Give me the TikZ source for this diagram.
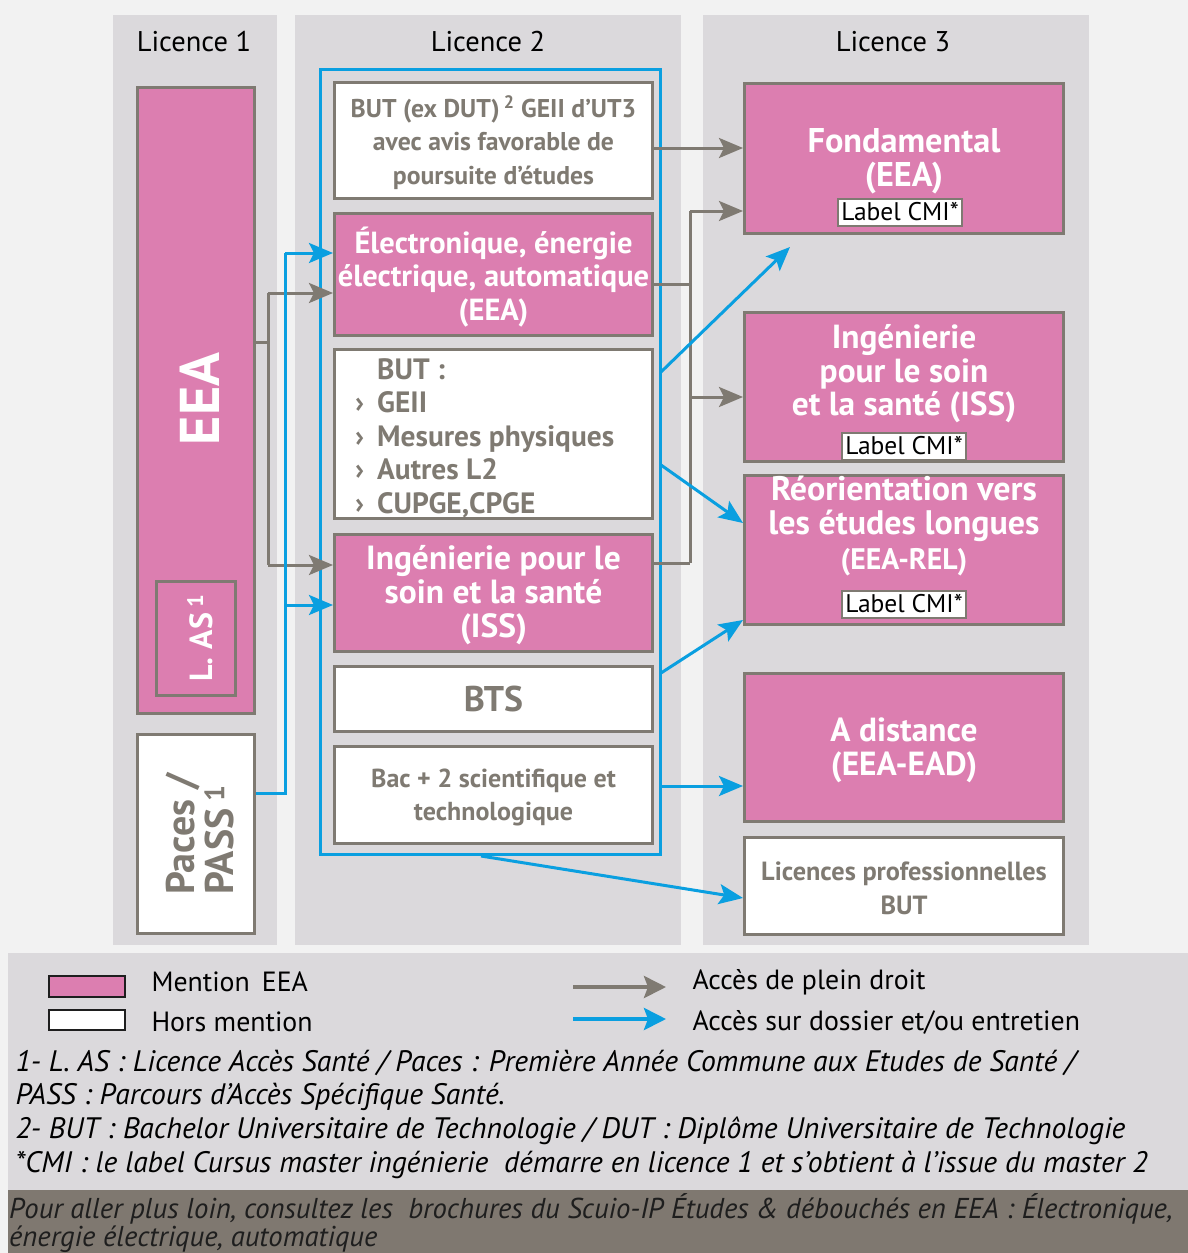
\documentclass[tikz,border=0pt]{standalone}
\usepackage{fontspec}
\setmainfont{PT Sans}
\usetikzlibrary{arrows.meta}
\definecolor{pinkc}{HTML}{DC7EB0}
\definecolor{grayc}{HTML}{7F7A72}
\definecolor{colbg}{HTML}{DBD9DC}
\definecolor{outerbg}{HTML}{F2F2F2}
\definecolor{bluec}{HTML}{0A9FE0}
\definecolor{barc}{HTML}{7F7870}
\definecolor{darktxt}{HTML}{1E1E1E}
\begin{document}
\begin{tikzpicture}[x=1pt,y=-1pt,
  box/.style={draw=grayc, line width=3pt, inner sep=0pt, align=center},
  pinkbox/.style={box, fill=pinkc, text=white},
  whitebox/.style={box, fill=white, text=grayc},
  wl2/.style={minimum width=318pt},
  wl3/.style={minimum width=319pt},
  gline/.style={draw=grayc, line width=3pt},
  garrow/.style={gline, -{Stealth[length=24pt,width=20pt,inset=5pt]}},
  bline/.style={draw=bluec, line width=3pt, line join=miter},
  barrow/.style={bline, -{Stealth[length=24pt,width=20pt,inset=5pt]}},
  cmi/.style={draw=grayc, line width=2pt, fill=white, text=black, font={\fontsize{25.5}{27}\selectfont}, minimum width=124pt, minimum height=27pt, inner sep=0pt},
  hdr/.style={font={\fontsize{28.5}{30}\selectfont}, text=black},
  legtxt/.style={anchor=west, font={\fontsize{27.8}{30}\selectfont}, text=black},
  foot/.style={anchor=west, font={\fontsize{29.6}{30}\selectfont\itshape}, text=black},
  bartxt/.style={anchor=west, font={\fontsize{28.7}{30}\selectfont\itshape}, text=darktxt},
]
\useasboundingbox (0,0) rectangle (1188,1253);
\fill[outerbg] (0,0) rectangle (1188,1253);
% columns
\fill[colbg] (113,15) rectangle (277,945);
\fill[colbg] (295,15) rectangle (681,945);
\fill[colbg] (703,15) rectangle (1089,945);
\node[hdr] (h1) at (194,42) {Licence 1};
\node[hdr] (h2) at (488,42) {Licence 2};
\node[hdr] (h3) at (893,42) {Licence 3};

% Licence 1
\node[pinkbox, minimum width=117pt, minimum height=626pt] (eea1) at (196,400.5) {};
\node[rotate=90, text=white, font={\fontsize{56}{60}\selectfont\bfseries}] (eeatxt) at (200,399) {EEA};
\node[pinkbox, minimum width=79pt, minimum height=114pt] (las) at (196,638.5) {};
\node[rotate=90, text=white, font={\fontsize{32}{34}\selectfont\bfseries}] (lastxt) at (200,638) {L. AS\,\textsuperscript{1}};
\node[whitebox, minimum width=117pt, minimum height=199pt] (paces) at (196,834) {};
\node[rotate=90, text=grayc, align=left, font={\fontsize{40}{39}\selectfont\bfseries}] (pacestxt) at (200,834) {Paces /\\PASS\,\textsuperscript{1}};

% Licence 2
\node[draw=bluec, line width=3pt, minimum width=340pt, minimum height=785pt, inner sep=0pt] (frame) at (490,461.5) {};
\node[whitebox, wl2, minimum height=116pt] (butdut) at (493.5,140.5) {};
\node[text=grayc, align=center, font={\fontsize{25.7}{33.5}\selectfont\bfseries}] (butduttxt) at (493.5,142.5) {BUT (ex DUT)\,\textsuperscript{2} GEII d’UT3\\avec avis favorable de\\poursuite d’études};
\node[pinkbox, wl2, minimum height=122pt] (eea2) at (493.5,274.5) {};
\node[text=white, align=center, font={\fontsize{30.5}{33.5}\selectfont\bfseries}] (eea2txt) at (493.5,277) {Électronique, énergie\\électrique, automatique\\(EEA)};
\node[whitebox, wl2, minimum height=169pt] (butlist) at (493.5,434) {};
\node[anchor=north west, text=grayc, align=left, inner sep=0pt, font={\fontsize{29.4}{33.5}\selectfont\bfseries}] (butlisttxt) at (355,358) {\makebox[22pt][l]{}BUT :\\\makebox[22pt][l]{›}GEII\\\makebox[22pt][l]{›}Mesures physiques\\\makebox[22pt][l]{›}Autres L2\\\makebox[22pt][l]{›}CUPGE,CPGE};
\node[pinkbox, wl2, minimum height=117pt] (iss2) at (493.5,593) {};
\node[text=white, align=center, font={\fontsize{33.5}{34}\selectfont\bfseries}] (iss2txt) at (493.5,595) {Ingénierie pour le\\soin et la santé\\(ISS)};
\node[whitebox, wl2, minimum height=65pt, font={\fontsize{35.7}{38}\selectfont\bfseries}] (bts) at (493.5,699) {BTS};
\node[whitebox, wl2, minimum height=97pt] (bac) at (493.5,795) {};
\node[text=grayc, align=center, font={\fontsize{26}{33.5}\selectfont\bfseries}] (bactxt) at (493.5,797.5) {Bac + 2 scientifique et\\technologique};

% Licence 3
\node[pinkbox, wl3, minimum height=150pt] (fond) at (904,158.5) {};
\node[text=white, align=center, font={\fontsize{34.3}{34}\selectfont\bfseries}] (fondtxt) at (904,161) {Fondamental\\(EEA)};
\node[cmi] (cmi1) at (900,212) {Label CMI*};
\node[pinkbox, wl3, minimum height=149pt] (iss3) at (904,387) {};
\node[text=white, align=center, font={\fontsize{33.4}{33.5}\selectfont\bfseries}] (iss3txt) at (904,374) {Ingénierie\\pour le soin\\et la santé (ISS)};
\node[cmi] (cmi2) at (904,446) {Label CMI*};
\node[pinkbox, wl3, minimum height=149pt] (rel) at (904,550) {};
\node[text=white, align=center, font={\fontsize{34}{34.5}\selectfont\bfseries}] (reltxt) at (904,526) {Réorientation vers\\les études longues\\{\fontsize{29.7}{30}\selectfont(EEA-REL)}};
\node[cmi] (cmi3) at (904,604) {Label CMI*};
\node[pinkbox, wl3, minimum height=148pt] (ead) at (904,747.5) {};
\node[text=white, align=center, font={\fontsize{33.4}{33.5}\selectfont\bfseries}] (eadtxt) at (904,750.5) {A distance\\(EEA-EAD)};
\node[whitebox, wl3, minimum height=97pt] (lpro) at (904,886) {};
\node[text=grayc, align=center, font={\fontsize{26.3}{34}\selectfont\bfseries}] (lprotxt) at (904,888.5) {Licences professionnelles\\BUT};

% gray connectors L1 -> L2
\coordinate (gM) at (268,342);
\coordinate (gA) at (268,293);
\coordinate (gB) at (268,565);
\draw[gline] (gM -| eea1.east) -- (gM);
\draw[gline] (gA) -- (gB);
\draw[garrow] (gA) -- (gA -| eea2.west);
\draw[garrow] (gB) -- (gB -| iss2.west);

% blue connectors Paces -> L2
\coordinate (bM) at (285,793);
\coordinate (bA) at (285,253);
\coordinate (bB) at (285,605);
\draw[bline] (bM -| paces.east) -- (bM) -- (bA);
\draw[barrow] (bA) -- (bA -| eea2.west);
\draw[barrow] (bB) -- (bB -| iss2.west);

% gray connectors L2 -> L3
\coordinate (rD) at (660,148);
\draw[garrow] (rD -| butdut.east) -- (rD -| fond.west);
\coordinate (rA) at (690,211);
\coordinate (rB) at (690,397);
\coordinate (rE) at (690,284);
\coordinate (rI) at (690,563);
\draw[gline] (rE -| eea2.east) -- (rE);
\draw[gline] (rI -| iss2.east) -- (rI);
\draw[gline] (rA) -- (rI);
\draw[garrow] (rA) -- (rA -| fond.west);
\draw[garrow] (rB) -- (rB -| iss3.west);

% blue connectors frame -> L3
\coordinate (s1) at (661,372);
\coordinate (t1) at (790,247);
\draw[barrow] (s1) -- (t1);
\coordinate (s2) at (661,465);
\draw[barrow] (s2) -- ([yshift=27pt]rel.west);
\coordinate (s3) at (661,673);
\draw[barrow] (s3) -- ([yshift=-70pt]rel.west);
\coordinate (s4) at (661,786);
\draw[barrow] (s4) -- (s4 -| ead.west);
\coordinate (s5) at (481,856);
\draw[barrow] (s5) -- ([yshift=-12pt]lpro.west);

% legend band
\fill[colbg] (8,953) rectangle (1188,1190);
\node[draw=darktxt, line width=2pt, fill=pinkc, minimum width=76pt, minimum height=21pt, inner sep=0pt] (swp) at (87,986) {};
\node[legtxt] (lgp) at (148,982) {Mention\, EEA};
\node[draw=darktxt, line width=2pt, fill=white, minimum width=76pt, minimum height=20pt, inner sep=0pt] (sww) at (87,1020) {};
\node[legtxt] (lgw) at (148,1022) {Hors mention};
\coordinate (la1) at (573,987);
\coordinate (la2) at (666,987);
\draw[gline, line width=4pt, -{Stealth[length=22pt,width=22pt,inset=4pt]}] (la1) -- (la2);
\node[legtxt] (lgg) at (689,982) {Accès de plein droit};
\coordinate (lb1) at (573,1019);
\coordinate (lb2) at (666,1019);
\draw[bline, line width=4pt, -{Stealth[length=22pt,width=22pt,inset=4pt]}] (lb1) -- (lb2);
\node[legtxt] (lgb) at (689,1022) {Accès sur dossier et/ou entretien};

\node[foot] (f1) at (12,1063) {1- L. AS : Licence Accès Santé / Paces : Première Année Commune aux Etudes de Santé /};
\node[foot] (f2) at (12,1097) {PASS : Parcours d’Accès Spécifique Santé.};
\node[foot] (f3) at (12,1131) {2- BUT : Bachelor Universitaire de Technologie / DUT : Diplôme Universitaire de Technologie};
\node[foot] (f4) at (12,1165) {*CMI : le label Cursus master ingénierie\ \ démarre en licence 1 et s’obtient à l’issue du master 2};

% bottom bar
\fill[barc] (8,1190) rectangle (1188,1253);
\node[bartxt, inner sep=2pt] (b1) at (7,1209) {Pour aller plus loin, consultez les\ \ brochures du Scuio-IP Études \& débouchés en EEA : Électronique,};
\node[bartxt, inner sep=2pt] (b2) at (7,1239) {énergie électrique, automatique};
\end{tikzpicture}
\end{document}
